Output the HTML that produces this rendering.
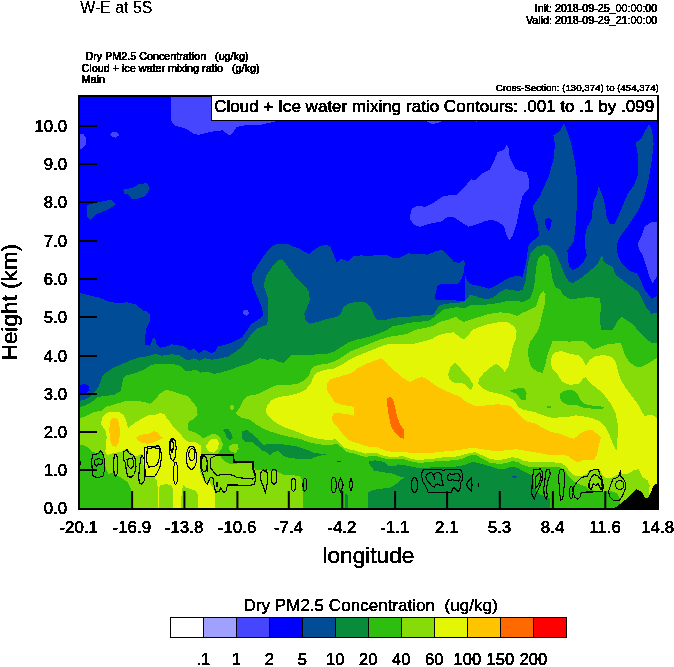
<!DOCTYPE html>
<html><head><meta charset="utf-8"><title>W-E at 5S</title>
<style>
html,body{margin:0;padding:0;background:#fff;}
svg{display:block;}
text{font-family:"Liberation Sans",sans-serif;fill:#000;}
.tk{font-size:16px;stroke:#000;stroke-width:0.3px;}
.sm{font-size:10.7px;stroke:#000;stroke-width:0.45px;}
</style></head><body>
<svg width="674" height="667" viewBox="0 0 674 667">
<rect x="0" y="0" width="674" height="667" fill="#fff"/>
<defs>
<filter id="bw" x="0" y="0" width="674" height="667" filterUnits="userSpaceOnUse" color-interpolation-filters="sRGB"><feComponentTransfer><feFuncA type="discrete" tableValues="0 0 1 1 1"/></feComponentTransfer></filter>
<filter id="bwb" x="0" y="0" width="674" height="667" filterUnits="userSpaceOnUse" color-interpolation-filters="sRGB"><feComponentTransfer><feFuncA type="discrete" tableValues="0 0 1 1 1 1"/></feComponentTransfer></filter>
<clipPath id="pc"><rect x="79.0" y="96.0" width="579.0" height="413.0"/></clipPath>
</defs>
<g clip-path="url(#pc)" shape-rendering="crispEdges">
<rect x="79.0" y="96.0" width="579.0" height="413.0" fill="#0000FF"/>
<path d="M79,133.5 L83.5,134.5 L86,138 L86.4,142 L85,146 L82,148.5 L79,149.2Z" fill="#4646FF" />
<path d="M110.2,134.5 L113,132 L117,132.3 L119.1,135 L116,137.7 L112,137.2Z" fill="#4646FF" />
<path d="M171,96 L171,120.8 L175.3,125.9 L185.5,128.5 L193.2,133.6 L198.3,134.8 L211,131.8 L222.5,130.3 L228.4,134.8 L232,134.3 L236.5,127.2 L244.2,125.4 L262,124.6 L272.2,122.1 L280,120.6 L425,120.6 L432,123.8 L438,123.2 L442,120.6 L474,120.6 L476.5,121.8 L479,120.6 L480,96Z" fill="#4646FF" />
<path d="M410,215.7 L412,208.7 L417,206.1 L425.9,206.7 L434.9,201.8 L443.9,195.8 L456.8,194.8 L463.8,187.8 L470.8,179.4 L475.8,179.8 L481.8,173.8 L489.7,169.9 L493.7,161.9 L497.7,151.9 L503.7,149.9 L506.7,144.9 L508.7,147.9 L509.7,157.9 L515.7,168.9 L519.6,170.8 L526.6,172.2 L529.2,179.8 L529.2,187.8 L522.6,195.8 L519.6,207.7 L516.7,223.7 L512.7,235.7 L509.3,240.6 L506.7,235.7 L503.7,225.7 L497.7,221.7 L491.7,219.7 L483.7,221.7 L475.8,224.7 L468.8,226.7 L461.8,222.7 L453.8,217.3 L446.9,217.3 L440.9,221.7 L429.9,223.7 L419.9,226.7 L414,224.7 L410.4,219.7Z" fill="#4646FF" />
<path d="M658,221.7 L651.6,222.1 L644.7,226.7 L641.7,235.6 L637.7,243.6 L639.7,251 L641.7,253 L645.7,264.9 L649.6,276.9 L652.6,282.9 L658,275Z" fill="#4646FF" />
<path d="M242.6,312 L244,310 L247,309.8 L248.8,312 L248.5,314.5 L246.5,315.6 L243.8,315Z" fill="#4646FF" />
<path d="M79.6,292.9 L80,292.9 L88,295.2 L97.9,297.2 L107.9,301.2 L115.9,302.8 L127.8,302.4 L135.8,304.4 L142.8,310.4 L147.8,311.8 L150.2,314.8 L149.8,321.8 L146.2,328.7 L144.8,338.7 L145.4,344.7 L149.8,345.7 L152.8,338.7 L154.8,337.7 L156.8,344.7 L159.7,347.7 L166.9,346.3 L171.9,344.3 L179.9,345.7 L184.8,346.7 L189.8,350.7 L193.8,348.7 L198.8,353.7 L203.8,349.7 L210.8,352.7 L214.8,352.3 L217.7,346.7 L225.7,344.7 L233.7,341.7 L241.7,337.7 L246.7,330.7 L251.6,323.8 L259.6,318.8 L263.2,314.8 L261.6,306.8 L256.6,294.9 L252.6,284.9 L251.6,274.9 L256.6,266.9 L261.6,259 L266,253 L271,247 L275,244.8 L280,243.5 L288,243.8 L292,246 L300,249 L305,252 L309,254 L314,250 L320,246 L325,245 L330,246 L333,253 L336.8,262.5 L340.8,258.6 L347.8,261.4 L353.7,256 L361.7,255.4 L369.7,256 L377.7,254.6 L385.6,254.6 L393.6,258 L400,257.5 L408,253.4 L417.9,254 L427.9,254.6 L435.9,251 L442.9,250 L446.9,254 L453.8,261.9 L459.8,262.9 L463.8,259.4 L464.6,262 L464.4,272 L465.5,276 L466.5,279 L467.5,280.9 L471,284.4 L477,285.6 L482.9,286.8 L488.8,288.6 L493.6,286.8 L503.7,280.9 L511.7,276.9 L517.6,275.9 L522.6,276.9 L525.6,264.9 L527.6,251 L528.6,245 L530,243.6 L539,235.6 L538,225.7 L533.6,211.7 L533,205.7 L540,195.8 L548.9,175.8 L553.9,157.9 L554.9,143.9 L553.5,135.5 L559.9,131 L563.5,123.6 L565.9,128 L570.9,141.9 L574.9,161.9 L577.5,183.8 L576.9,205.7 L575.5,225.7 L573.9,241.6 L567.4,250 L567.9,257 L568.9,266.9 L572.9,269.9 L578.9,266.9 L584.8,260 L586.8,255 L584.8,245 L584.8,237.6 L586.8,227.7 L592.2,217.7 L592.8,203.7 L596.8,193.8 L598.8,186.2 L601.8,193.8 L604.8,203.7 L606.8,217.7 L609.8,223.7 L614.7,223.7 L617.7,217.7 L622.7,205.7 L627.7,193.8 L633.7,185.8 L637.7,175.8 L637.7,153.9 L635.7,142.9 L641.7,137.9 L645.7,130 L649,124.4 L652,130 L653.6,143.9 L651.6,161.9 L648.6,179.8 L644.7,195.8 L638.7,209.7 L629.7,223.7 L620.7,235.6 L617.7,241.6 L617,248 L617.7,255 L621.7,262.9 L629.7,270.9 L637.7,273.9 L641.7,282.9 L645.7,290.9 L651.6,298.8 L657,296 L658,296 L658,508.6 L79.6,508.6Z" fill="#004C96" />
<path d="M86.7,205 L102,201.4 L111,199.9 L116,204.5 L107.1,210.1 L96.9,213.9 L90.6,219.8 L87.2,216.5Z" fill="#004C96" />
<path d="M123.2,189.7 L132.7,187.7 L139,184.1 L146.7,183.1 L150,188.4 L145.4,196.1 L137.8,198.6 L131.4,198.6 L128.8,194.8 L124.5,193.5Z" fill="#004C96" />
<path d="M440.8,284.2 L454.4,284.4 L458.6,283.2 L461.5,278.8 L463.7,272 L464.5,272 L464.9,279.1 L465,301 L460.4,301.3 L455,300.4 L447.3,300.4 L439,300.4 L435.4,299.3 L435.2,295.7 L436.6,289.2 L437.8,285.6Z" fill="#0000FF" />
<path d="M79,385 L85,384 L89,386 L89.6,390.9 L86,392.9 L79,392.9Z" fill="#0000FF" />
<path d="M544.4,219.7 L548.9,217.7 L551.9,220.7 L549.9,229.7 L548.3,230.7 L546,226.7Z" fill="#0000FF" />
<path d="M79.6,400.9 L80,400.9 L87,398.9 L92.9,393.9 L97.9,388 L100.9,381 L102.5,376 L105.9,372.6 L113.9,367.6 L121.9,364.2 L129.8,360.7 L139.8,357.1 L147.8,356.3 L154.8,353.7 L161.7,355.7 L171.7,354.3 L179.7,355.1 L184.7,359.1 L188.7,360.3 L193.6,358.3 L199.6,360.7 L204.6,358.3 L211.8,359.7 L219.7,358.3 L227.7,356.7 L235.7,351.7 L241.7,346.7 L247.7,339.7 L251.6,333.7 L256.6,328.7 L262,326.5 L266.5,325 L267.6,322 L267.6,297 L266,292 L264,287 L264.6,281 L266,275.9 L272,266.9 L278,260 L282,259.4 L285.9,263.9 L290.9,270.9 L297.9,279.9 L304.9,285.9 L308.9,291.9 L309.9,299.8 L306.9,307.8 L304.3,313.8 L305.5,319.8 L309.9,323.8 L317.8,321.8 L327.8,318.8 L336.8,316.8 L340.8,313.8 L342.8,307.8 L347.8,303.8 L355.7,301.8 L363.7,301.8 L368.7,304.8 L371.7,308.8 L374.7,316.8 L377.7,320.4 L385.6,319.8 L393.6,317.8 L400,317.3 L412,316.4 L423.9,315.2 L432.9,314.8 L435.9,310.8 L438.9,305.8 L445.9,303.8 L457.8,302.8 L463.8,301.8 L467.8,297.8 L469.8,294.9 L474.8,295.8 L481.8,298.4 L487.7,299.2 L493.7,297.2 L499.7,291.9 L505.7,289.3 L511.7,289.9 L517.6,290.9 L522.6,289.9 L525.6,280.9 L527.6,264.9 L530.6,253 L533,250.5 L537,246.6 L543,245 L548.9,245.6 L552.9,249.6 L555.9,253 L559.9,263 L564.9,274.9 L568.9,281.9 L572.9,282.9 L579.9,278.9 L589.8,270.9 L597.8,263.9 L600.8,257 L601.8,255 L603.8,262 L608.8,264.9 L612.8,266.9 L615.7,274.9 L623.7,280.9 L631.7,286.9 L638.7,291.9 L641.7,298.8 L645.7,306.8 L651.6,313.8 L657,312.8 L658,312.8 L658,508.6 L79.6,508.6Z" fill="#088C3C" />
<path d="M79.6,407.5 L80,407.5 L86,404.9 L92,401.9 L97.9,396.9 L105.9,395.9 L113.9,394.9 L120.9,390.9 L121.9,384 L123.4,378 L124.9,376 L128,375 L133.8,373.6 L143.8,369.6 L151.8,364.6 L161.7,364.2 L171.7,363.6 L179.7,365.6 L184.7,370.6 L189.7,371 L195.6,369.6 L200.6,372.6 L205.6,371.5 L210,372.4 L214,374 L221.9,372.2 L229.9,370 L239.9,366 L247.9,364 L253.8,361 L259.8,358.3 L267,359.6 L274,359.3 L280,362.3 L283.9,362.8 L287.8,358.3 L292.3,354.6 L299.9,354.8 L311.9,354.6 L325.8,354.2 L333.8,351.7 L341.8,346.7 L347.8,342.7 L355.7,339.7 L365.7,337.7 L375.7,334.7 L385.6,330.7 L393.6,325.8 L400,325.3 L408,322.8 L419.9,321.8 L429.9,320.4 L435.9,315.8 L442.9,309.8 L449.9,308.4 L456.8,307.2 L463.8,308.4 L471.8,304.8 L479.8,304.8 L489.7,304.4 L499.7,302.8 L507.7,300.8 L515.7,301.2 L523.6,301.8 L530,298.8 L534,287.9 L536,268.9 L538,258 L544,254 L548.9,257 L550.9,268.9 L552.9,280.9 L555.9,287.9 L559.9,288.9 L562.9,294.9 L569.9,299.2 L577.9,298.4 L587.8,297.2 L599.8,297.8 L600.8,304.8 L600.2,320.8 L600.8,329.7 L612.8,329.7 L617.7,320.8 L621.7,316.8 L627.7,320.8 L633.7,324.8 L639.7,332.7 L645.7,338.7 L651.6,342.7 L657,343.1 L658,343.1 L658,508.6 L79.6,508.6Z" fill="#2EBE10" />
<path d="M79,418.9 L86,415.9 L93.9,411.9 L101.9,410.9 L105.9,406.9 L115.9,403.9 L125.9,400.9 L135.8,400.9 L143.8,401.9 L149.8,403.9 L154.8,399.9 L159.7,393.9 L165.7,389.9 L171.7,390.9 L179.7,393.9 L187.7,395.9 L192.6,401.9 L196.6,406.9 L197.6,414.9 L193.6,418.9 L188.7,421.9 L187.7,429.8 L190,431 L195.2,432.5 L199.7,435.5 L203.5,438.5 L208,436.2 L212.5,434 L217,434.7 L220.7,438.5 L223,444.5 L221.5,449 L217.7,453.5 L220.5,456.5 L223.5,460.5 L229,463.5 L234,464.5 L241,462.2 L253,462.5 L255.2,470 L265,470 L277,471.5 L283,474.5 L292,475.2 L299.5,476 L301.7,479 L302.5,491 L302.5,509 L79,509Z" fill="#86DC08" />
<path d="M79,444.5 L84,445.6 L88.5,447.9 L92.2,451.6 L96.6,453.1 L100.3,450.8 L102.5,454.5 L103.9,459.5 L104.8,464 L106.3,469.4 L108.5,474.2 L111,473 L113.7,473.1 L116.5,475 L119.6,476.6 L122.5,478.6 L125.5,480.5 L128,483 L130,486.4 L131.5,492.4 L131.5,509 L79,509Z" fill="#2EBE10" />
<path d="M100.7,424.2 L102.2,417.5 L106,413.2 L112,411.5 L119.5,412 L124,415.5 L126.5,422 L128.2,428 L132,425 L136,422 L142,418.5 L148,415.5 L154,415 L160,413 L164.5,414 L167,419 L169.7,421.5 L173.5,427 L179.5,433 L184,438.5 L188.5,442.2 L195.2,441.8 L200.5,445.2 L201.2,455 L200.2,461 L199.7,470 L202,477.5 L205.3,483.5 L208.7,480.5 L211,485 L214.7,491 L214.7,509 L197.5,509 L197.5,494 L196,491 L191.5,489.5 L187,488 L183.2,485 L181.7,491 L181,509 L172.7,509 L172.7,488 L170.5,485 L166,484.2 L160,485 L159.2,488 L159,509 L157.5,509 L157.7,488 L157,480.5 L154,476.7 L148,477.5 L145,476 L143.5,465 L142,453.5 L139,455 L136,456.5 L133,455 L128.5,450.5 L125.5,449 L121,452 L115,452.7 L112,453.5 L107.5,455 L105.2,452 L106,446 L106.7,437 L105.2,429.5Z" fill="#E2F606" />
<path d="M109.7,423.5 L111.2,419 L115,417.5 L118,419.7 L119.5,426.5 L119.8,435.5 L118.7,443 L115.7,446.7 L112,446 L110.2,440 L109.3,431Z" fill="#FFC400" />
<path d="M136,437.7 L140.5,434.7 L148,434 L154,431 L157.7,432.5 L160,436.2 L163,437.7 L159.2,440 L154,442.2 L148,443.7 L142,443 L138.2,440.7Z" fill="#FFC400" />
<path d="M206.2,446 L208.7,441.5 L212.5,438.5 L217,438.5 L218.8,443 L217.7,449 L214,452.7 L209.5,452 L206.8,449.3Z" fill="#E2F606" />
<path d="M229,446 L233.5,443.7 L238,444.5 L238.7,449 L235.7,452.7 L231.2,452 L229,449Z" fill="#86DC08" />
<path d="M229.8,407 L231.2,405.3 L233.3,405.3 L234.5,407 L234.3,409 L232.6,410 L230.6,409.4Z" fill="#86DC08" />
<path d="M222.9,429.7 L227.9,428.7 L230.9,432.7 L232.9,437.7 L229.9,440.7 L226.9,437.7 L224.9,432.7Z" fill="#088C3C" />
<path d="M241.9,431.7 L246.9,429.7 L251.8,433.7 L257.8,438.7 L263.8,445.7 L267.8,443.7 L275.8,443.7 L285.7,444.7 L297.7,446.7 L307,449.7 L313,452.7 L319,453.5 L326.6,453.7 L325.7,455 L319,455.7 L313,458 L308.5,459.5 L299.7,459 L289.7,458 L284,456 L281.8,454 L278.5,450.5 L274,452 L270,455.7 L267,452 L261.8,450.7 L257.8,446.7 L251.8,441.7 L244.9,441.7 L241.5,437.7Z" fill="#088C3C" />
<path d="M235.5,413.8 L238.9,408.8 L242.9,400.8 L247.9,395.8 L257.8,394.2 L267.8,388.9 L275.8,385.5 L285.7,384.9 L295.7,384.3 L303.7,380.9 L308.7,375.5 L311,370 L313.9,366.6 L319.8,364.6 L327.8,363.6 L335.8,360.7 L342.8,356.7 L349.8,351.7 L359.7,347.7 L369.7,343.7 L379.7,339.7 L389.6,336.7 L400,335.2 L408,333.7 L416,329.7 L425.9,327.8 L433.9,325.8 L439.9,321.8 L447.9,319.8 L455.8,316.8 L459.8,319.8 L463.8,321.8 L469.8,319.8 L479.8,316.8 L489.7,313.8 L499.7,312.4 L507.7,312.8 L513.7,314.8 L517.6,315.8 L522.6,312.8 L529.6,309.8 L536,306.8 L540,294.9 L543,290.9 L545.6,293.9 L545,302.8 L542,314.8 L539,328.7 L534,336.7 L530,341.7 L528.1,349.9 L528.7,359.9 L531.7,367.9 L537.7,371.9 L542.7,372.9 L545,366 L548,353 L552.7,341 L561.9,340.7 L569.9,341.7 L577.9,340.7 L585.8,341.7 L591.8,348.7 L595.8,348.7 L605.8,344.7 L613.8,343.7 L620.7,342.7 L622.7,348.7 L625.7,356.7 L629.7,362.6 L635.7,366.6 L641.7,366.6 L649.6,362.6 L657,357.7 L659,357.7 L659,509 L620.5,509 L620.5,503.7 L619.7,498.5 L617.5,494 L613,491.7 L608.5,491 L604,491.7 L596.5,491 L589,489.5 L586,486.5 L581.5,485 L577,483.5 L572.3,480.2 L568.2,476 L565.2,470.7 L561.5,467.7 L555.5,467 L548,466.7 L539,466.7 L528.5,466.7 L522.5,464.7 L517.2,461.7 L512,461.3 L506,463.2 L498.5,464 L489.5,462.5 L482.7,459 L478,455.8 L473.1,454.6 L468.4,455.8 L462.4,458.8 L456.4,460 L449.2,460.6 L442,460.6 L434.8,461.4 L426.4,462.4 L418,462.8 L410.5,461.3 L403,458.9 L391,459.5 L383.5,458.3 L377.5,456.5 L371.5,456 L365.5,456.8 L359.5,455.5 L353.5,453.5 L346,452 L340.7,446.7 L337,443.9 L329.5,445.2 L319,444.3 L308.5,442.2 L301,439.2 L289,436.7 L278.5,434 L269.5,431.3 L262,428 L256,424.2 L249.9,419.8 L241.9,417.8 L235.5,413.8Z" fill="#86DC08" />
<path d="M508.8,390.8 L517.8,388.2 L523.7,388.2 L526.7,392.8 L525.7,399.8 L520.8,399.8 L516.8,393.8Z" fill="#2EBE10" />
<path d="M559.9,393.8 L563.9,390.8 L571.9,389.8 L576.9,392.8 L579.9,398.8 L583.8,403.8 L593.8,405.8 L603.8,406.8 L602.8,409.4 L593.8,408.8 L583.8,407.8 L575.9,404.8 L567.9,404.8 L561.9,401.8 L559.5,397.8Z" fill="#2EBE10" />
<path d="M547,406 L551,406 L551,408 L547,408Z" fill="#2EBE10" />
<path d="M265.8,411.8 L266.8,405.8 L271.8,399.8 L279.8,396.8 L287.7,395.8 L297.7,393.4 L305.7,389.5 L310.7,383.9 L313.7,376.5 L316.8,372.6 L325.8,369.6 L333.8,368.6 L341.8,364.6 L349.8,359.7 L357.7,355.7 L367.7,351.7 L377.7,347.7 L385.6,344.7 L393.6,343.7 L400,344.2 L414,343.7 L425.9,340.7 L432.9,338.7 L436.9,335.7 L445.9,333.2 L453.8,332.3 L458.8,336.5 L463.2,339.7 L467.8,335.7 L472.8,329.7 L479.8,326.8 L487.7,324.4 L497.7,322.4 L507.7,322.4 L513.7,325.8 L516.6,330.7 L515.8,339 L512.8,347 L510.5,356.9 L508.3,366.5 L504.8,371.9 L499.8,365.9 L495.8,363.9 L489.9,367.9 L483.9,372.9 L478.9,378.9 L478.3,383.8 L482.9,388.8 L489.9,391.8 L499.8,393.8 L507.8,396.8 L514.8,400.8 L517.8,406.8 L523.7,409.8 L533.7,411.8 L543.7,415.4 L551.7,417.8 L561.6,417.3 L569.9,416.5 L575.9,415.4 L585.8,416.8 L593.8,418.8 L600.8,421.8 L605.8,427.7 L609.8,435.7 L613.7,445.7 L616.7,450.7 L617.7,435.7 L617.7,423.7 L615.7,413.8 L610.8,403.8 L604.8,395.8 L598.8,389.8 L593.8,385.9 L588.8,381.9 L585.8,376.9 L582.8,378.9 L578.9,383.9 L569.9,384.9 L561.9,381.9 L557.9,374.9 L551.9,367.9 L550.9,361.9 L551.9,356 L555.9,352 L561.9,351 L569.9,354 L577.9,355 L582.8,358.9 L585.8,365.9 L589.8,359.9 L595.8,356 L603.8,355 L611.8,356.9 L615.7,361.9 L617.7,369.9 L620.7,379.9 L625.7,387.9 L631.7,395.8 L637.7,403.8 L641.7,411.8 L644.7,415.8 L651.6,414.8 L657,417.8 L659,417.8 L659,494 L649,494 L649.7,485 L647.5,480.5 L643,477.5 L640.7,473 L638.5,469.2 L634,470 L629.5,473 L625,474.5 L620.5,473 L617.5,474.5 L611.5,477.5 L605.5,478.2 L602.5,474.5 L599.5,469.2 L589,470 L587.5,473 L581.5,476 L575.5,476 L571,473 L568.5,469.5 L565.5,466 L561.5,463.5 L555.5,462.5 L548,461.7 L539,461.7 L530,461.7 L524,461 L518,458 L512,457.2 L506,458.7 L498.5,460.2 L489.5,458.7 L486,457 L480.3,454.5 L475.5,452.2 L470.8,452.8 L466,454 L460,455.8 L454,457 L445.6,457 L436,458.4 L426.4,459.3 L418,460.1 L410.5,458.5 L403,456.2 L391,457.2 L383.5,455.7 L377.5,453.5 L371.5,453 L365.5,453.5 L359.5,451.8 L356,450.8 L350.5,449.7 L344.5,447.5 L339.2,443 L335.5,439.2 L328,440 L319,439 L311.5,437.2 L304,434.7 L295,431 L286,427.8 L277,423.5 L273,420.5 L268,416 L265.8,411.8Z" fill="#E2F606" />
<path d="M448,374.9 L450,367.9 L455,362.9 L458.9,365.9 L463.9,372.9 L469.9,378.9 L473.5,384.8 L470.9,390.8 L466.9,385.8 L461.9,382.8 L455,383.4 L450,379.9Z" fill="#86DC08" />
<path d="M334,377.9 L342,375.9 L351.9,372.9 L357.9,367.9 L365.9,363.9 L373.9,360.9 L380.9,358.3 L384.8,360.9 L388.8,365.9 L395.8,371.9 L402.8,377.9 L409.8,381.9 L415.8,378.9 L421.7,376.9 L426.7,378.9 L431.7,382.9 L439.7,387.9 L448,391.8 L459.9,396.8 L465.9,401.8 L475.9,406.2 L485.9,405.4 L497.8,404.2 L509.8,405.8 L515.8,410.8 L521.8,417.7 L527.7,421.7 L536,423.7 L542,427.7 L549.9,431.7 L559.9,433.7 L569.9,437.7 L573.9,438.7 L579.9,433.7 L585.8,430.7 L591.8,429.7 L596.8,433.7 L600.8,437.7 L598.8,445.7 L596.8,455.7 L593.8,459.6 L583.8,459.6 L577.9,462.6 L572.9,459.6 L567.9,455.7 L559.9,454.7 L549.5,455 L542,453.5 L533,452 L524,450.5 L516.5,449.3 L509,449.7 L500,451.2 L491,450.5 L482,449.3 L476,448.2 L470.8,448 L463.6,449.2 L456.4,450.4 L448,451 L439.6,452.2 L430,452.8 L421.6,453.4 L413.2,453.4 L406,452.2 L399.8,451.7 L392.5,452 L385.5,450.5 L377.5,447.5 L370,447 L362.5,445 L359.5,443.7 L352,441.6 L346,438 L344,435.7 L338,427.7 L334,423.8 L332.6,421.8 L332,416.8 L334,413 L346,413.8 L353.9,415.8 L353.9,406.8 L342,404.8 L334,402 L330.6,395.8 L327.6,391.8 L326.6,384.9 L329.6,379.9Z" fill="#FFC400" />
<path d="M386.8,398.8 L389.8,396.8 L392.8,398.8 L394.8,405.8 L396.8,415.8 L399.8,423.7 L403.8,429.7 L403.8,438.7 L399.8,437.7 L394.8,432.7 L390.8,425.7 L388.8,415.8 L387.4,405.8Z" fill="#FF6A00" />
<path d="M368.2,509 L368.5,492.5 L373,490.2 L380.5,488.7 L389.5,488 L394,485.7 L398.5,482 L403.7,477.5 L398.5,476 L391,473 L382,472.2 L374.5,470.7 L370.7,466.2 L368.3,461.7 L375,460.3 L384.5,462 L388.5,465.5 L394,466.4 L398.2,464.4 L404,465.2 L410.6,466.5 L418,468 L426.4,467.9 L434.8,467 L444.4,466.6 L454,466.8 L460,466 L466,464.4 L470.8,462.4 L474.3,461.8 L478,463 L482.7,464.2 L489.5,466.2 L497,468.5 L506,468.5 L512,466.7 L517.2,467.7 L522.5,470.7 L528.5,473.7 L533,476 L533.7,480.5 L534.5,488 L539,494 L546.5,497 L550.2,498.5 L550.5,509Z" fill="#088C3C" />
<path d="M344.5,509 L344.5,495 L346,493 L347.5,495 L347.5,509Z" fill="#088C3C" />
<path d="M337,460.8 L340.7,460.8 L340.7,461.8 L337,461.8Z" fill="#004C96" />
<path d="M512,476.5 L514,476 L517,476.5 L515.5,478 L513.5,478.5Z" fill="#004C96" />
<path d="M613,509 L620.5,503.7 L625,500 L629.5,495.5 L634,491 L636.2,489.2 L640,491 L643,494 L645.2,497.7 L648.2,497.7 L651.2,491.7 L653.5,485.7 L656.5,483.5 L659,483 L659,509Z" fill="#000" />
</g>
<g clip-path="url(#pc)" fill="none" stroke="#000" stroke-width="1.15" shape-rendering="crispEdges">
<path d="M92.5,455 L98.5,453.5 L100.7,450.5 L103,454.2 L104.8,461 L104.5,470 L103,476 L98.5,477.5 L93.2,476.7 L92.2,470 L91.7,461Z"/>
<path d="M94.7,460.2 L98.5,458.7 L102.2,459.5 L102.7,462.5 L100.7,464.7 L98.5,464 L96.2,466.2 L94.7,464Z"/>
<ellipse cx="115.7" cy="465.2" rx="2.2" ry="10.9"/>
<path d="M123.2,452 L127,449.7 L129.2,453.5 L133,455 L135.7,459.5 L136,467 L134.5,474.5 L131.5,477.2 L127.7,476.7 L126.2,470 L125.5,462.5 L123.2,459.5Z"/>
<path d="M127,459.5 L132.2,458 L133.7,461.7 L133,467 L130.7,468.5 L128.2,466.2Z"/>
<path d="M142,455 L144.2,459.5 L145,470 L144.2,480.5 L142,484.2 L139.3,483.5 L138.7,476 L139.7,465.5 L140.8,458Z"/>
<path d="M145,447.5 L151,446.3 L158.5,446 L160.7,449 L161.5,458 L160,467 L157,473 L154.7,476.7 L148,476.7 L145.7,476 L144.7,467 L144.2,455Z"/>
<path d="M147.2,449 L154,447.5 L159.2,449 L159.7,456.5 L157.7,464 L154,466.7 L148.7,467 L146.5,461Z"/>
<path d="M169.3,444.5 L170.5,440 L172.7,438.2 L175,440 L176.2,447.5 L175.3,456.5 L173.5,461 L171.2,459.5 L169.7,453.5Z"/>
<path d="M170.5,443 L172.3,440 L173.5,444.5 L172.7,452 L171.2,452.7Z"/>
<ellipse cx="175.6" cy="473.3" rx="2" ry="11"/>
<ellipse cx="191.5" cy="457.7" rx="5.2" ry="11.6"/>
<ellipse cx="191.8" cy="454.7" rx="3" ry="6"/>
<path d="M201.2,455 L233.5,454.5 L234.2,461.7 L253,461.7 L253.7,470 L256,476 L254.5,484.2 L250,485.3 L233.5,485 L227.5,485 L226,491 L223.7,492.5 L220.7,488 L219.2,491.7 L215.5,492.2 L214,485 L213.2,478.2 L210.2,477.5 L208.7,481.2 L207.2,484.2 L205.3,482 L203.5,476 L201.2,470 L200.2,461Z"/>
<ellipse cx="204.2" cy="463.7" rx="3" ry="7.9"/>
<path d="M211,458 L215.5,455.7 L233.5,455.7 L233.8,462.5 L252.2,462.5 L253,470 L255.2,476.7 L253,479 L244,478.2 L236.5,477.5 L233.5,475.2 L226,474.5 L217,475.2 L214,472.2 L211,468.5 L210.2,462.5Z"/>
<path d="M261.2,471.5 L263.5,470 L265,472.2 L266.5,470 L267.7,476 L267.2,483.5 L266.2,489.5 L265.3,492.5 L263.5,486.5 L261.2,482 L260.2,476Z"/>
<ellipse cx="274.1" cy="476.7" rx="2.8" ry="7.5"/>
<ellipse cx="293.5" cy="484.7" rx="2.2" ry="6.4"/>
<ellipse cx="304.9" cy="484.7" rx="1.9" ry="6.4"/>
<ellipse cx="333.7" cy="485" rx="2.6" ry="7.5"/>
<path d="M340.6,478.3 L343,483.995 L343,486.005 L340.6,491.7 L338.2,486.005 L338.2,483.995Z"/>
<path d="M351,478.3 L352.7,483.74 L352.7,485.66 L351,491.1 L349.3,485.66 L349.3,483.74Z"/>
<ellipse cx="414.5" cy="485" rx="3.2" ry="7.5"/>
<path d="M424,469.3 L440.8,469.3 L443.2,470.8 L445.6,469.3 L460.6,469.3 L462.4,473.8 L462.6,479.2 L460.6,482.8 L460,488.8 L458.2,491.8 L455.2,488.8 L453.7,487.6 L452.2,490 L451,492.4 L428.2,492.4 L427,488.8 L425.2,485.2 L422.8,481.6 L421.6,476.2 L422.2,471.4Z"/>
<path d="M425.8,476.2 L428.2,473.2 L431.8,472.6 L433.6,475.6 L435.4,473.2 L439,472.2 L441.4,475 L442,480.4 L443.2,485.2 L440.8,485.8 L437.8,484 L436,484.6 L434.2,487 L431.8,485.8 L428.8,482.2 L426.4,479.2Z"/>
<path d="M434.2,476.2 L434.2,480.4"/>
<path d="M447.4,476.2 L449.2,473.8 L453.4,474.4 L456.4,473.4 L459.4,474.4 L460.2,477.4 L458.8,481 L455.8,480.4 L452.2,479.8 L449.2,481 L447.4,479.2Z"/>
<path d="M471.7,478 L468.4,481 L466.6,484.6 L468.4,488.2 L471.7,491.4 L472,485.2Z"/>
<path d="M478.3,482.8 L478.3,487"/>
<path d="M533.7,470 L540.5,468.9 L542.7,473 L542,480.5 L539,488 L536,494 L534.2,499.2 L531.8,494 L532.2,482 L533,474.5Z"/>
<path d="M536,476 L539.7,473 L541.2,476.7 L539,483.5 L536,488 L535.2,482Z"/>
<path d="M546.5,470 L549.5,469.2 L550.2,474.5 L548,480.5 L546.5,488 L547.2,495.5 L546.2,499.2 L544.2,495.5 L543.8,488 L545,479 L545.7,473Z"/>
<path d="M560,470 L563,469.2 L564.8,474.5 L564.5,482 L563.7,491 L562.7,499.2 L560.7,500 L559.7,494 L559.2,485 L558.2,477.5Z"/>
<ellipse cx="571.3" cy="492.5" rx="1.8" ry="6"/>
<path d="M573.2,488 L577,482 L581.5,477.5 L587.5,476 L589.7,471.5 L593.5,469.7 L598.7,470 L599.5,474.5 L601.7,477.5 L603.2,485 L602.8,491.7 L581.5,492.2 L580,497 L577.7,499.2 L574.7,497 L573.2,492.5Z"/>
<path d="M589,483.5 L591.2,477.5 L594.2,474.5 L598,476 L601.3,480.5 L602.2,486.5 L601,489.5 L598,483.5 L595.7,485.7 L593.5,483.5 L591.2,489.5 L589,487.2Z"/>
<path d="M620.5,470 L620.8,476 L623.5,479 L625.7,483.5 L625,489.5 L622.7,495.5 L619.7,500 L613.7,500.7 L610,497 L608.5,491.7 L610.7,485 L613,479 L617.5,477.5 L619.7,474.5Z"/>
<ellipse cx="619.7" cy="485" rx="4.2" ry="4.4"/>
<path d="M80.4,461 L80.4,464.5"/>
<path d="M207.5,468 V471.5 M216.8,481.5 V487 M171.4,449.5 V453" stroke-width="1.6"/>
</g>
<g shape-rendering="crispEdges">
<rect x="79.0" y="96.0" width="579.0" height="413.0" fill="none" stroke="#000" stroke-width="2"/>
<rect x="211" y="96" width="446" height="25" fill="#fff"/>
<path d="M211.5,96 V120.5 H657" fill="none" stroke="#000" stroke-width="1"/>
<rect x="79.0" y="469" width="18" height="2" fill="#000"/>
<rect x="79.0" y="431" width="18" height="2" fill="#000"/>
<rect x="79.0" y="393" width="18" height="2" fill="#000"/>
<rect x="79.0" y="355" width="18" height="2" fill="#000"/>
<rect x="79.0" y="316" width="18" height="2" fill="#000"/>
<rect x="79.0" y="278" width="18" height="2" fill="#000"/>
<rect x="79.0" y="240" width="18" height="2" fill="#000"/>
<rect x="79.0" y="201" width="18" height="2" fill="#000"/>
<rect x="79.0" y="163" width="18" height="2" fill="#000"/>
<rect x="79.0" y="125" width="18" height="2" fill="#000"/>
<rect x="131.1" y="491.0" width="2" height="18" fill="#000" shape-rendering="auto"/>
<rect x="183.4" y="491.0" width="2" height="18" fill="#000" shape-rendering="auto"/>
<rect x="236.4" y="491.0" width="2" height="18" fill="#000" shape-rendering="auto"/>
<rect x="287.8" y="491.0" width="2" height="18" fill="#000" shape-rendering="auto"/>
<rect x="341.2" y="491.0" width="2" height="18" fill="#000" shape-rendering="auto"/>
<rect x="394.1" y="491.0" width="2" height="18" fill="#000" shape-rendering="auto"/>
<rect x="446.1" y="491.0" width="2" height="18" fill="#000" shape-rendering="auto"/>
<rect x="498.8" y="491.0" width="2" height="18" fill="#000" shape-rendering="auto"/>
<rect x="551.9" y="491.0" width="2" height="18" fill="#000" shape-rendering="auto"/>
<rect x="604.3" y="491.0" width="2" height="18" fill="#000" shape-rendering="auto"/>
</g>
<g filter="url(#bw)">
<text x="214.2" y="112.2" font-size="17px" stroke="#000" stroke-width="0.4" textLength="440" lengthAdjust="spacingAndGlyphs">Cloud + Ice water mixing ratio Contours: .001 to .1 by .099</text>
<text class="tk" transform="translate(67.2,514.2) scale(1.05,1)" text-anchor="end">0.0</text>
<text class="tk" transform="translate(67.2,475.6) scale(1.05,1)" text-anchor="end">1.0</text>
<text class="tk" transform="translate(67.2,437.6) scale(1.05,1)" text-anchor="end">2.0</text>
<text class="tk" transform="translate(67.2,399.6) scale(1.05,1)" text-anchor="end">3.0</text>
<text class="tk" transform="translate(67.2,361.6) scale(1.05,1)" text-anchor="end">4.0</text>
<text class="tk" transform="translate(67.2,322.6) scale(1.05,1)" text-anchor="end">5.0</text>
<text class="tk" transform="translate(67.2,284.6) scale(1.05,1)" text-anchor="end">6.0</text>
<text class="tk" transform="translate(67.2,246.6) scale(1.05,1)" text-anchor="end">7.0</text>
<text class="tk" transform="translate(67.2,207.6) scale(1.05,1)" text-anchor="end">8.0</text>
<text class="tk" transform="translate(67.2,169.6) scale(1.05,1)" text-anchor="end">9.0</text>
<text class="tk" transform="translate(67.2,131.6) scale(1.05,1)" text-anchor="end">10.0</text>
<text class="tk" transform="translate(78.7,533.2) scale(1.06,1)" text-anchor="middle">-20.1</text>
<text class="tk" transform="translate(131.8,533.2) scale(1.06,1)" text-anchor="middle">-16.9</text>
<text class="tk" transform="translate(184.1,533.2) scale(1.06,1)" text-anchor="middle">-13.8</text>
<text class="tk" transform="translate(237.1,533.2) scale(1.06,1)" text-anchor="middle">-10.6</text>
<text class="tk" transform="translate(288.5,533.2) scale(1.06,1)" text-anchor="middle">-7.4</text>
<text class="tk" transform="translate(341.9,533.2) scale(1.06,1)" text-anchor="middle">-4.2</text>
<text class="tk" transform="translate(394.8,533.2) scale(1.06,1)" text-anchor="middle">-1.1</text>
<text class="tk" transform="translate(446.8,533.2) scale(1.06,1)" text-anchor="middle">2.1</text>
<text class="tk" transform="translate(499.5,533.2) scale(1.06,1)" text-anchor="middle">5.3</text>
<text class="tk" transform="translate(552.6,533.2) scale(1.06,1)" text-anchor="middle">8.4</text>
<text class="tk" transform="translate(605.0,533.2) scale(1.06,1)" text-anchor="middle">11.6</text>
<text class="tk" transform="translate(657.7,533.2) scale(1.06,1)" text-anchor="middle">14.8</text>
<text x="368.4" y="563.3" font-size="22px" text-anchor="middle" textLength="92" lengthAdjust="spacingAndGlyphs" stroke="#000" stroke-width="0.3">longitude</text>
<text transform="translate(17.2,302.3) rotate(-90)" font-size="22px" text-anchor="middle" textLength="116.5" lengthAdjust="spacingAndGlyphs" stroke="#000" stroke-width="0.3">Height (km)</text>
<text x="80.2" y="12.9" font-size="16px" textLength="72.2" lengthAdjust="spacingAndGlyphs">W-E at 5S</text>
</g><g filter="url(#bwb)">
<text class="sm" x="85.5" y="59.8" textLength="163" lengthAdjust="spacingAndGlyphs" xml:space="preserve">Dry PM2.5 Concentration   (ug/kg)</text>
<text class="sm" x="81.5" y="71.8" textLength="178" lengthAdjust="spacingAndGlyphs" xml:space="preserve">Cloud + ice water mixing ratio   (g/kg)</text>
<text class="sm" x="81.5" y="82.8" textLength="23.5" lengthAdjust="spacingAndGlyphs">Main</text>
<text class="sm" x="657.3" y="11.6" text-anchor="end" textLength="122.6" lengthAdjust="spacingAndGlyphs">Init: 2018-09-25_00:00:00</text>
<text class="sm" x="657.3" y="23.6" text-anchor="end" textLength="131.3" lengthAdjust="spacingAndGlyphs">Valid: 2018-09-29_21:00:00</text>
<text x="658.8" y="91.3" font-size="9.7px" stroke="#000" stroke-width="0.25" text-anchor="end" textLength="163" lengthAdjust="spacingAndGlyphs">Cross-Section: (130,374) to (454,374)</text>
</g><g filter="url(#bw)">
<text x="203.3" y="665" font-size="16.5px" stroke="#000" stroke-width="0.35" text-anchor="middle">.1</text>
<text x="236.3" y="665" font-size="16.5px" stroke="#000" stroke-width="0.35" text-anchor="middle">1</text>
<text x="269.3" y="665" font-size="16.5px" stroke="#000" stroke-width="0.35" text-anchor="middle">2</text>
<text x="302.3" y="665" font-size="16.5px" stroke="#000" stroke-width="0.35" text-anchor="middle">5</text>
<text x="335.3" y="665" font-size="16.5px" stroke="#000" stroke-width="0.35" text-anchor="middle">10</text>
<text x="368.3" y="665" font-size="16.5px" stroke="#000" stroke-width="0.35" text-anchor="middle">20</text>
<text x="401.3" y="665" font-size="16.5px" stroke="#000" stroke-width="0.35" text-anchor="middle">40</text>
<text x="434.3" y="665" font-size="16.5px" stroke="#000" stroke-width="0.35" text-anchor="middle">60</text>
<text x="467.3" y="665" font-size="16.5px" stroke="#000" stroke-width="0.35" text-anchor="middle">100</text>
<text x="500.3" y="665" font-size="16.5px" stroke="#000" stroke-width="0.35" text-anchor="middle">150</text>
<text x="533.3" y="665" font-size="16.5px" stroke="#000" stroke-width="0.35" text-anchor="middle">200</text>
<text x="370.6" y="611" font-size="17px" stroke="#000" stroke-width="0.25" text-anchor="middle" textLength="254.2" lengthAdjust="spacingAndGlyphs" xml:space="preserve">Dry PM2.5 Concentration  (ug/kg)</text>
</g>
<g shape-rendering="crispEdges">
<rect x="170.3" y="617.5" width="33.0" height="20" fill="#FFFFFF" stroke="#000" stroke-width="1"/>
<rect x="203.3" y="617.5" width="33.0" height="20" fill="#A0A0FF" stroke="#000" stroke-width="1"/>
<rect x="236.3" y="617.5" width="33.0" height="20" fill="#4646FF" stroke="#000" stroke-width="1"/>
<rect x="269.3" y="617.5" width="33.0" height="20" fill="#0000FF" stroke="#000" stroke-width="1"/>
<rect x="302.3" y="617.5" width="33.0" height="20" fill="#004C96" stroke="#000" stroke-width="1"/>
<rect x="335.3" y="617.5" width="33.0" height="20" fill="#088C3C" stroke="#000" stroke-width="1"/>
<rect x="368.3" y="617.5" width="33.0" height="20" fill="#2EBE10" stroke="#000" stroke-width="1"/>
<rect x="401.3" y="617.5" width="33.0" height="20" fill="#86DC08" stroke="#000" stroke-width="1"/>
<rect x="434.3" y="617.5" width="33.0" height="20" fill="#E2F606" stroke="#000" stroke-width="1"/>
<rect x="467.3" y="617.5" width="33.0" height="20" fill="#FFC400" stroke="#000" stroke-width="1"/>
<rect x="500.3" y="617.5" width="33.0" height="20" fill="#FF6A00" stroke="#000" stroke-width="1"/>
<rect x="533.3" y="617.5" width="33.0" height="20" fill="#FF0000" stroke="#000" stroke-width="1"/>
</g>
</svg></body></html>
